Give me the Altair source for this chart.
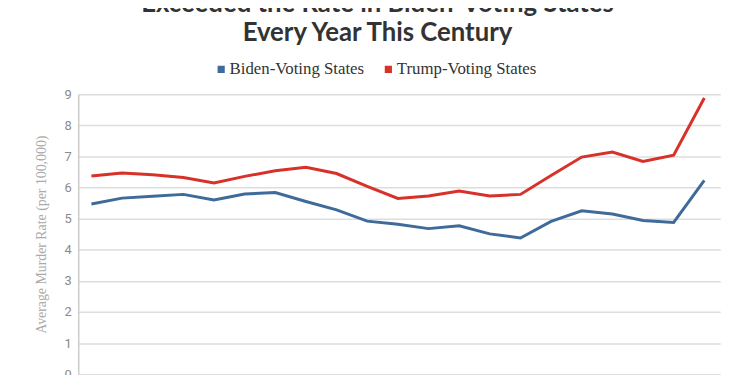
import altair as alt
import pandas as pd

years = list(range(2000, 2021))
biden = [5.47, 5.66, 5.72, 5.78, 5.60, 5.79, 5.84, 5.55, 5.28, 4.92, 4.82,
         4.68, 4.77, 4.51, 4.38, 4.91, 5.25, 5.15, 4.94, 4.88, 6.23]
trump = [6.37, 6.47, 6.41, 6.32, 6.15, 6.36, 6.54, 6.65, 6.45, 6.04, 5.65,
         5.73, 5.89, 5.73, 5.78, 6.39, 6.98, 7.14, 6.84, 7.04, 8.88]
series = ["Biden-Voting States", "Trump-Voting States"]
colors = ["#3e6b99", "#d7312a"]
title_lines = ["Exceeded the Rate in Biden-Voting States", "Every Year This Century"]

df = pd.concat([
    pd.DataFrame({"year": years, "rate": biden, "series": series[0]}),
    pd.DataFrame({"year": years, "rate": trump, "series": series[1]}),
])

chart = alt.Chart(df).mark_line(strokeWidth=3).encode(
    x=alt.X("year:Q", scale=alt.Scale(domain=[1999.57, 2020.52], nice=False, zero=False), axis=None),
    y=alt.Y("rate:Q", scale=alt.Scale(domain=[0, 9], nice=False),
            axis=alt.Axis(values=list(range(10)), grid=True, gridColor="#dddddd", gridWidth=1.5,
                          domainColor="#cccccc", domainWidth=1.5, ticks=False,
                          labelColor="#8a8a8a", labelFont="Roboto", labelFontSize=13,
                          labelPadding=7, title="Average Murder Rate (per 100,000)",
                          titleFont="Liberation Serif", titleFontSize=14, titleFontWeight="normal",
                          titleColor="#aaaaaa", titlePadding=16)),
    color=alt.Color("series:N", scale=alt.Scale(domain=series, range=colors),
                    legend=alt.Legend(orient="none", legendX=136, legendY=-34, direction="horizontal",
                                      title=None, symbolType="square", symbolSize=14,
                                      symbolStrokeWidth=3.5, labelFont="Liberation Serif",
                                      labelFontSize=17, labelColor="#333333", columnPadding=14,
                                      labelOffset=0, padding=0)),
).properties(
    width=649, height=283,
    title=alt.TitleParams(text=title_lines, font="Lato", fontSize=26, fontWeight="bold",
                          color="#333333", lineHeight=29, anchor="middle", dx=-22, offset=15),
    autosize=alt.AutoSizeParams(type="none"),
    padding={"left": 71, "top": 85, "right": 22, "bottom": 30},
).configure_view(stroke=None)

chart.save("out.html", embed_options={"renderer": "svg", "actions": False})
